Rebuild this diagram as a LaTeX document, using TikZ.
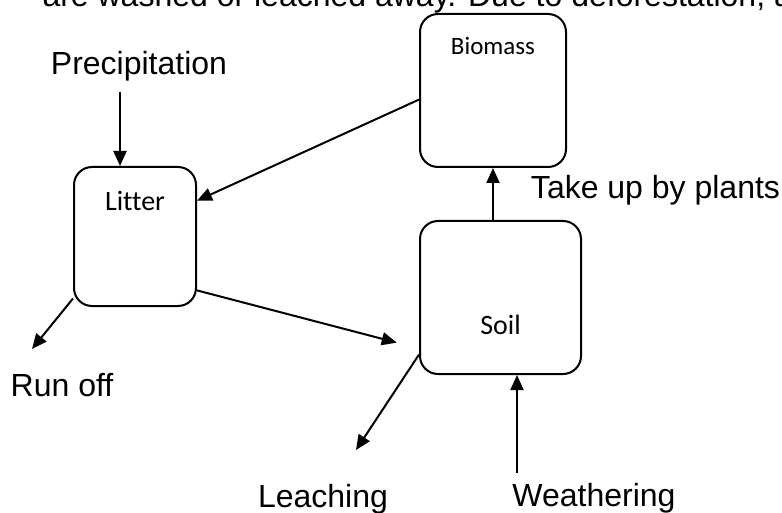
\documentclass[tikz,border=0pt]{standalone}
\usepackage{fontspec}
\setmainfont{Liberation Sans}
\newfontfamily\boxfont[Ligatures=CommonOff]{Carlito}
\usetikzlibrary{arrows.meta}
\begin{document}
\begin{tikzpicture}[x=1pt,y=-1pt,>={Triangle[length=15pt,width=13pt]},line width=2pt,
	box/.style={draw,rounded corners=18pt,inner sep=0pt,font=\boxfont\fontsize{28}{28}\selectfont},
	lbl/.style={inner sep=0pt,anchor=base,font=\fontsize{32}{32}\selectfont}]
	\useasboundingbox (0,0) rectangle (782,513);
	\node[lbl,anchor=base west] (top) at (41.5,7) {are washed or leached away. Due to deforestation, a};
	\node[box,minimum width=146pt,text height=41pt,text depth=112pt,font=\boxfont\fontsize{25}{25}\selectfont] (bio) at (493,90.5) {Biomass};
	\node[box,minimum width=122pt,text height=44pt,text depth=95pt] (litter) at (135,236.5) {Litter};
	\node[box,minimum width=161pt,text height=113pt,text depth=40pt] (soil) at (500.5,297.5) {Soil};
	\node[lbl] (prec) at (139,74.3) {Precipitation};
	\node[lbl] (take) at (655.5,199) {Take up by plants};
	\node[lbl] (runoff) at (62,396.7) {Run off};
	\node[lbl] (leach) at (323,507) {Leaching};
	\node[lbl] (weath) at (594,506.7) {Weathering};
	\coordinate (pr) at (120,92);
	\coordinate (ro) at (32,349);
	\coordinate (lc) at (356,450);
	\coordinate (wt) at (517,473);
	\draw[->] (pr) -- (pr |- litter.north);
	\draw[->] (bio.187) -- (litter.30);
	\draw[->] (litter.225) -- (ro);
	\draw[->,shorten >=23pt] (litter.-41) -- (soil.212);
	\draw[->] (soil.215) -- (lc);
	\draw[->] (wt) -- (wt |- soil.south);
	\draw[->] (soil.north -| bio.south) -- (bio.south);
\end{tikzpicture}
\end{document}
